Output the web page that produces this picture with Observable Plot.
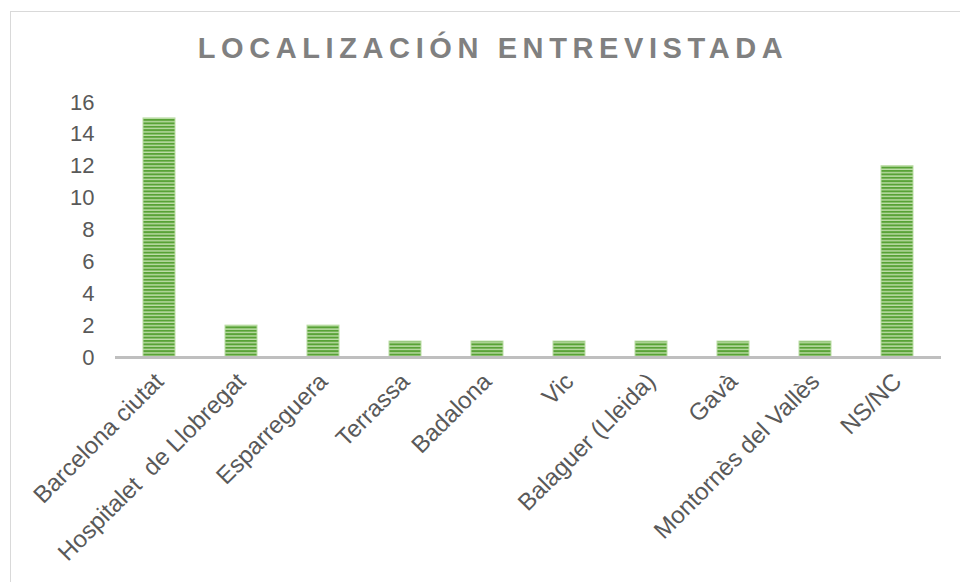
<!DOCTYPE html>
<html>
<head>
<meta charset="utf-8">
<script src="https://cdn.jsdelivr.net/npm/d3@7"></script>
<script src="https://cdn.jsdelivr.net/npm/@observablehq/plot@0.6"></script>
<style>
  html, body { margin: 0; padding: 0; background: #fff; }
  body { width: 960px; height: 582px; position: relative; overflow: hidden; font-family: "Liberation Sans", Arial, sans-serif; }
  #frame { position: absolute; left: 10px; top: 11px; width: 1000px; height: 640px; border: 1.5px solid #d9d9d9; pointer-events: none; }
  #title { position: absolute; left: 0; top: 34px; width: 986px; text-align: center; font-weight: bold; font-size: 29px; line-height: 29px; letter-spacing: 5.6px; color: #808080; }
  #chart { position: absolute; left: 0; top: 0; }
</style>
</head>
<body>
<div id="frame"></div>
<div id="title">LOCALIZACIÓN ENTREVISTADA</div>
<div id="chart"></div>
<script>
const categories = ["Barcelona ciutat", "Hospitalet  de Llobregat", "Esparreguera", "Terrassa", "Badalona", "Vic", "Balaguer (Lleida)", "Gavà", "Montornès del Vallès", "NS/NC"];
const values = [15, 2, 2, 1, 1, 1, 1, 1, 1, 12];
const yTicks = [0, 2, 4, 6, 8, 10, 12, 14, 16];

const data = categories.map((c, i) => ({category: c, value: values[i]}));

const plot = Plot.plot({
  width: 960,
  height: 582,
  marginTop: 102,
  marginBottom: 225,
  marginLeft: 115,
  marginRight: 19,
  style: {fontFamily: "'Liberation Sans', Arial, sans-serif", fontSize: "22px", color: "#595959", background: "transparent", overflow: "visible"},
  x: {domain: categories, paddingInner: 0.61, paddingOuter: 0.305, label: null},
  y: {domain: [0, 16], label: null},
  marks: [
    Plot.barY(data, {x: "category", y: "value", fill: "url(#stripes)", stroke: "#b9dca3", strokeWidth: 1}),
    Plot.ruleY([0], {stroke: "#bfbfbf", strokeWidth: 3}),
    Plot.axisY(yTicks, {tickSize: 0, tickPadding: 21, fill: "#595959", fontSize: 22}),
    Plot.axisX({tickSize: 0, tickRotate: -45, tickPadding: 20, fill: "#595959", fontSize: 24})
  ]
});

const svg = d3.select(plot);
const defs = svg.insert("defs", ":first-child");
const pat = defs.append("pattern")
  .attr("id", "stripes")
  .attr("patternUnits", "userSpaceOnUse")
  .attr("width", 8)
  .attr("height", 3.4);
pat.append("rect").attr("width", 8).attr("height", 3.4).attr("fill", "#bfdeaa");
pat.append("rect").attr("width", 8).attr("height", 2).attr("fill", "#58a236");

document.getElementById("chart").appendChild(plot);
</script>
</body>
</html>
